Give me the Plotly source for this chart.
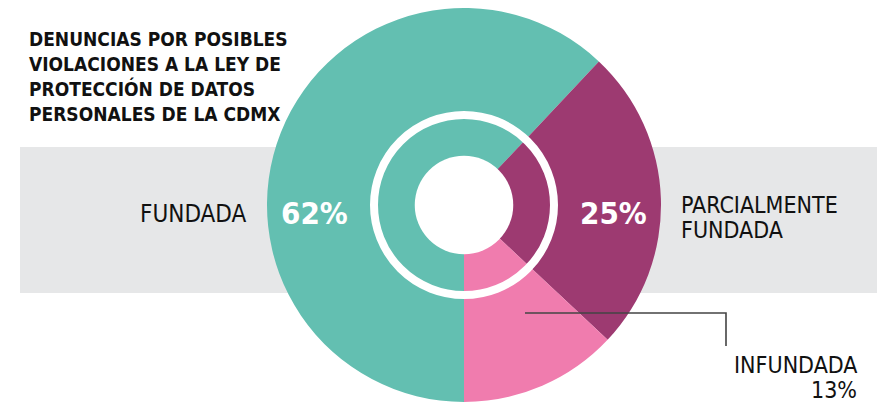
import plotly.graph_objects as go

categories = ["FUNDADA", "PARCIALMENTE FUNDADA", "INFUNDADA"]
values = [62, 25, 13]
colors = ["#63bfb1", "#9d3a71", "#f07cae"]
title_lines = ["DENUNCIAS POR POSIBLES", "VIOLACIONES A LA LEY DE",
               "PROTECCIÓN DE DATOS", "PERSONALES DE LA CDMX"]

# page body has an 8px margin; work in screen pixels and convert
OFF = 8
W, H = 885 - OFF, 405 - OFF
FONT = "DejaVu Sans Condensed, Liberation Sans Narrow, Roboto, sans-serif"


def px(x):
    return (x - OFF) / W


def py(y):
    return 1 - (y - OFF) / H


cx, cy, R = 464, 205, 197
HOLE = 0.245

fig = go.Figure(go.Pie(
    values=values,
    labels=categories,
    marker=dict(colors=colors, line=dict(width=0)),
    hole=HOLE,
    sort=False,
    direction="clockwise",
    rotation=180,
    textinfo="none",
    hoverinfo="label+percent",
    showlegend=False,
    domain=dict(x=[px(cx - R), px(cx + R)], y=[max(0, py(cy + R)), py(cy - R)]),
))

rh = R * HOLE + 1
shapes = [
    dict(type="rect", xref="paper", yref="paper", layer="below",
         x0=px(20), x1=1, y0=py(293), y1=py(147),
         fillcolor="#e6e7e8", line=dict(width=0)),
    # white centre of the donut
    dict(type="circle", xref="paper", yref="paper", layer="above",
         x0=px(cx - rh), x1=px(cx + rh), y0=py(cy + rh), y1=py(cy - rh),
         line=dict(width=0), fillcolor="white"),
    # white ring
    dict(type="circle", xref="paper", yref="paper", layer="above",
         x0=px(cx - 90), x1=px(cx + 90), y0=py(cy + 90), y1=py(cy - 90),
         line=dict(color="white", width=8), fillcolor="rgba(0,0,0,0)"),
    dict(type="path", xref="paper", yref="paper", layer="above",
         path=f"M {px(525)},{py(313)} L {px(726)},{py(313)} L {px(726)},{py(346)}",
         line=dict(color="#444444", width=1.6)),
]


def label(text, x, y, xanchor, size=23, color="#111111", bold=False):
    t = f"<b>{text}</b>" if bold else text
    return dict(text=t, x=px(x), y=py(y), xanchor=xanchor, yanchor="middle",
                showarrow=False, font=dict(family=FONT, size=size, color=color))


annotations = []
for i, line in enumerate(title_lines):
    annotations.append(label(line, 27, 39 + 25 * i, "left", size=19, bold=True))

parc = categories[1].split(" ")
annotations += [
    label(categories[0], 249, 214, "right", size=24),
    label(f"{values[0]}%", 314, 213, "center", size=31, color="white", bold=True),
    label(f"{values[1]}%", 613, 213, "center", size=31, color="white", bold=True),
    label(parc[0], 679, 205, "left"),
    label(parc[1], 679, 230, "left"),
    label(categories[2], 859, 365, "right"),
    label(f"{values[2]}%", 859, 390, "right"),
]

fig.update_layout(
    width=W, height=H,
    margin=dict(l=0, r=0, t=0, b=0),
    paper_bgcolor="white", plot_bgcolor="white",
    shapes=shapes, annotations=annotations,
)

fig.write_html("out.html")
